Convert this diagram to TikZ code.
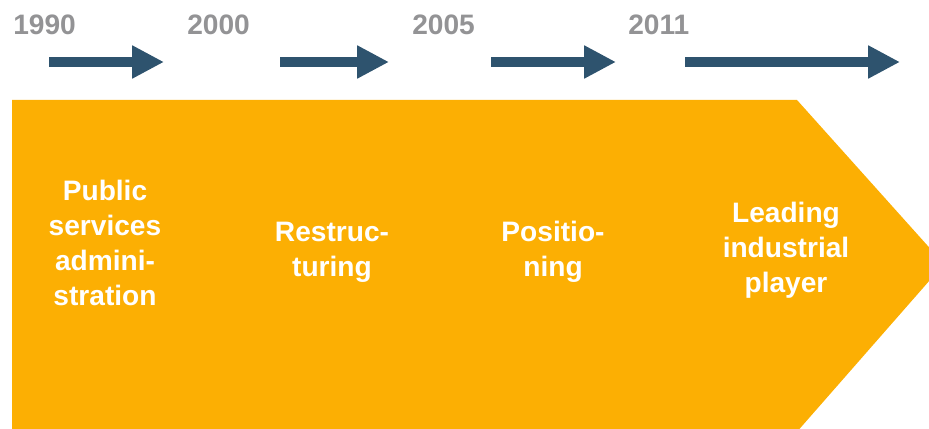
\documentclass[tikz,border=0pt]{standalone}
\usepackage{fontspec}
\setmainfont{Liberation Sans}
\usetikzlibrary{positioning,arrows.meta}

\definecolor{phaseorange}{RGB}{252,175,3}
\definecolor{arrowblue}{RGB}{46,83,110}
\definecolor{yeargray}{RGB}{147,147,149}

\tikzset{
    year/.style={text=yeargray,font=\bfseries\fontsize{16}{19}\selectfont,inner sep=0pt,anchor=west},
    phase/.style={text=white,font=\bfseries\fontsize{16}{19.8}\selectfont,align=center,inner sep=0pt},
    period/.style={arrowblue,line width=6.2pt,-{Triangle[length=18.1pt,width=17.6pt]}}
}

\begin{document}
\begin{tikzpicture}[x=0.02cm,y=-0.02cm]
    \useasboundingbox (0,0) rectangle (929,429);
    \clip (0,0) rectangle (929,429);

    % Chevron
    \fill[phaseorange] (12,100) -- (797,100) -- (944,264) -- (788,442) -- (12,442) -- cycle;

    % Years
    \node[year] (y1990) at (13,25) {1990};
    \node[year] (y2000) at (187,25) {2000};
    \node[year] (y2005) at (412,25) {2005};
    \node[year] (y2011) at (628,25) {2011};

    % Arrows
    \coordinate (a1s) at (49,62);  \coordinate (a1e) at (164,62);
    \coordinate (a2s) at (280,62); \coordinate (a2e) at (389,62);
    \coordinate (a3s) at (491,62); \coordinate (a3e) at (616,62);
    \coordinate (a4s) at (685,62); \coordinate (a4e) at (900,62);
    \draw[period] (a1s) -- (a1e);
    \draw[period] (a2s) -- (a2e);
    \draw[period] (a3s) -- (a3e);
    \draw[period] (a4s) -- (a4e);

    % Phases
    \node[phase] (public) at (105,243) {Public\\services\\admini-\\stration};
    \node[phase] (restruct) at (332,252) {Restruc-\\turing};
    \node[phase] (position) at (553,252) {Positio-\\ning};
    \node[phase] (leading) at (786,250) {Leading\\industrial\\player};
\end{tikzpicture}
\end{document}
